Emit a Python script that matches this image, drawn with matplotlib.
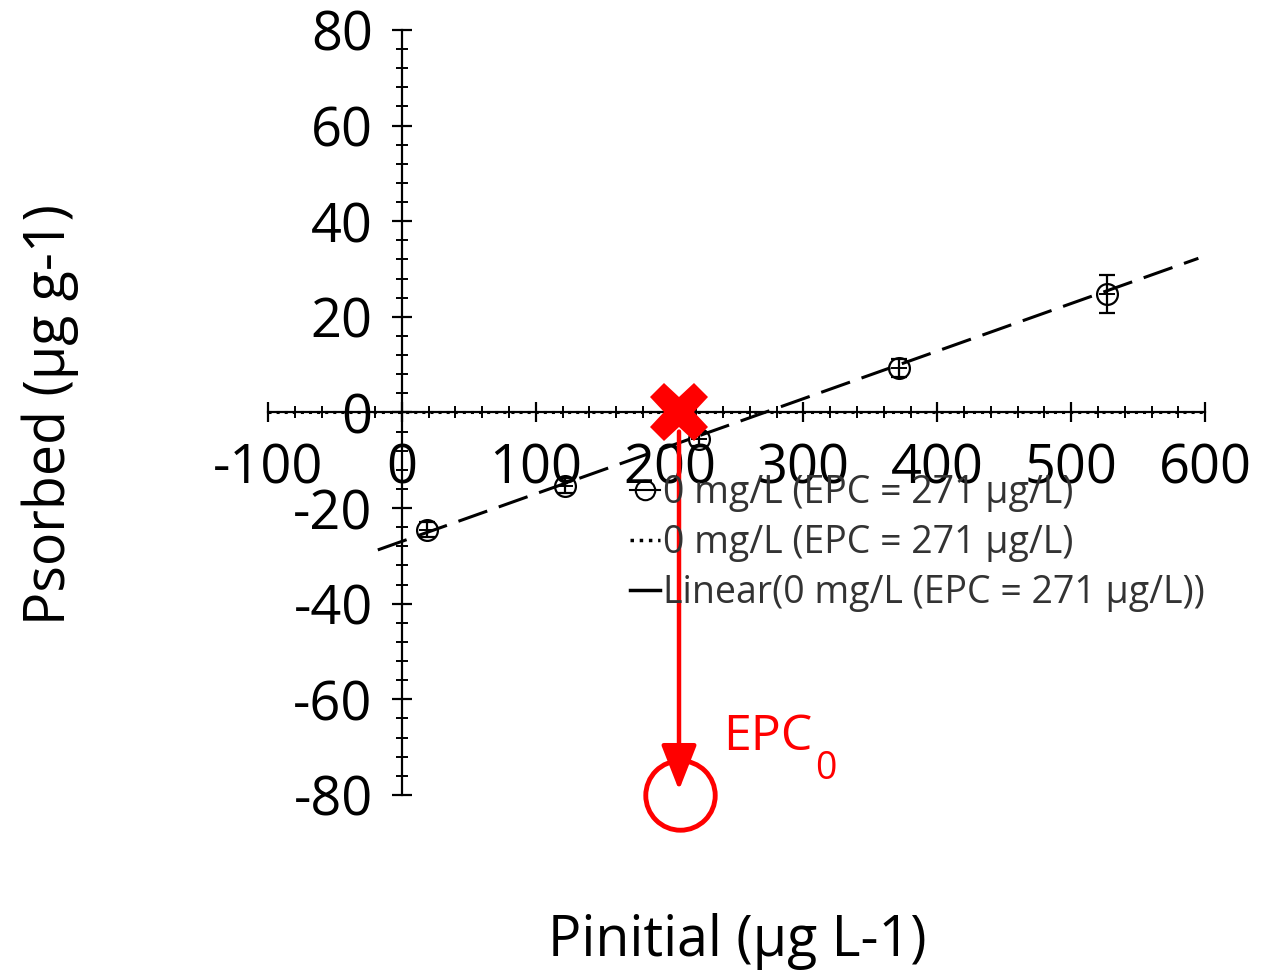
import numpy as np
import matplotlib
matplotlib.use('Agg')
import matplotlib.pyplot as plt
from matplotlib.lines import Line2D
from matplotlib.ticker import MultipleLocator

plt.rcParams['font.family'] = ['Open Sans', 'DejaVu Sans']
plt.rcParams['axes.unicode_minus'] = False

# measured points (Pinitial, Psorbed) with error
p_init = [19, 122, 222, 371, 527]
p_sorb = [-24.5, -15.3, -5.5, 9.3, 24.8]
p_err = [1.5, 1.5, 1.5, 1.8, 4.0]

# linear fit, EPC = 271 ug/L
slope = 0.0995
intercept = -26.96
fit_x = [-18, 595]

epc_mark = 207
label = '0 mg/L (EPC = 271 \u03bcg/L)'

fig = plt.figure(figsize=(12.62, 9.76), dpi=100)
ax = fig.add_axes([0.2124, 0.1855, 0.7425, 0.7838])
ax.set_xlim(-100, 600)
ax.set_ylim(-80, 80)

for s in ['top', 'right']:
    ax.spines[s].set_visible(False)
ax.spines['left'].set_position(('data', 0))
ax.spines['bottom'].set_position(('data', 0))
ax.spines['left'].set_linewidth(1.6)
ax.spines['bottom'].set_linewidth(1.6)

ax.xaxis.set_major_locator(MultipleLocator(100))
ax.xaxis.set_minor_locator(MultipleLocator(20))
ax.yaxis.set_major_locator(MultipleLocator(20))
ax.yaxis.set_minor_locator(MultipleLocator(4))
ax.tick_params(which='major', direction='inout', length=14, width=1.6, labelsize=39)
ax.tick_params(which='minor', direction='inout', length=8, width=1.4)
ax.tick_params(axis='x', which='major', pad=14)
ax.tick_params(axis='y', which='major', pad=14)

# dotted zero line
ax.plot([-100, 600], [0, 0], ':', color='black', lw=2.2)

# fitted line
fx = np.array(fit_x)
ax.plot(fx, slope * fx + intercept, color='black', lw=2.2, dashes=(10, 4))

# data points
ax.errorbar(p_init, p_sorb, yerr=p_err, fmt='o', mfc='none', mec='black', ms=15,
            mew=1.6, ecolor='black', elinewidth=1.6, capsize=6)
ax.plot(p_init, p_sorb, '+', color='black', ms=12, mew=1.4, ls='none')

# red annotation
ax.plot([epc_mark], [0], 'X', color='red', ms=42, mew=0, clip_on=False, zorder=5)
ax.annotate('', xy=(epc_mark, -79), xytext=(epc_mark, -4),
            arrowprops=dict(arrowstyle='-|>,head_length=2.8,head_width=1.1',
                            color='red', lw=3.2, shrinkA=0, shrinkB=0), zorder=5)
ax.plot([epc_mark + 1], [-80], 'o', mfc='none', mec='red', ms=50, mew=3.5,
        clip_on=False, zorder=5)
ax.text(240, -68, 'EPC', color='red', fontsize=36, va='center', ha='left')
ax.text(309, -74.5, '0', color='red', fontsize=27, va='center', ha='left')

handles = [
    Line2D([], [], marker='o', mfc='none', mec='black', color='black', ms=14, mew=1.5, ls='-', lw=1.5),
    Line2D([], [], color='black', ls=':', lw=2.5),
    Line2D([], [], color='black', ls='-', lw=2.5),
]
labels = [label, label, 'Linear(' + label + ')']
leg = fig.legend(handles, labels, loc='upper left', bbox_to_anchor=(0.487, 0.530),
                 frameon=False, fontsize=27, handlelength=0.8, handletextpad=0.1,
                 labelspacing=0.33, borderaxespad=0)
for t in leg.get_texts():
    t.set_color('#333333')

fig.text(0.04, 0.575, 'Psorbed (\u03bcg g-1)', rotation=90, fontsize=40,
         ha='center', va='center')
fig.text(0.584, 0.035, 'Pinitial (\u03bcg L-1)', fontsize=40, ha='center', va='center')

fig.savefig('out.png', dpi=100)
